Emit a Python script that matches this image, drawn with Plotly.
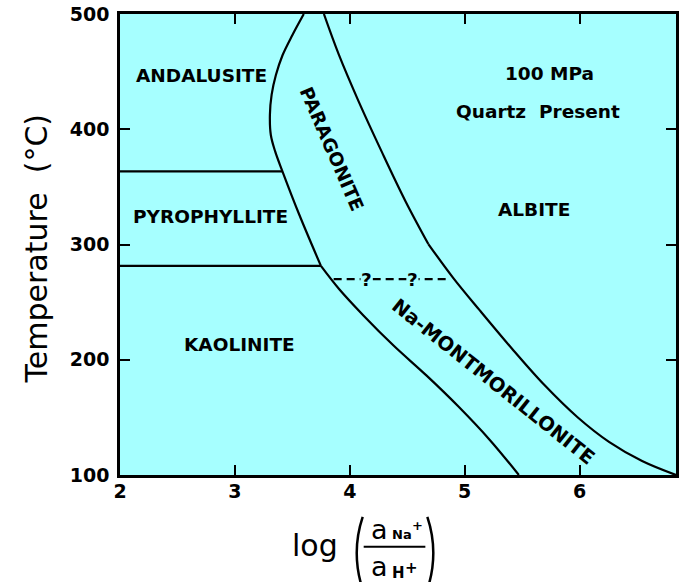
import plotly.graph_objects as go

# ---- phase boundaries: log(aNa+/aH+) vs temperature (°C) ----
# andalusite/pyrophyllite | paragonite boundary (upper branch, ends at the kaolinite line)
left_upper_x = [3.60, 3.50, 3.414, 3.357, 3.32, 3.305, 3.313, 3.35, 3.414, 3.56, 3.749]
left_upper_t = [500, 481.6, 464, 447, 430, 412.5, 395, 381, 363.5, 326, 281.4]
# kaolinite | paragonite / Na-montmorillonite boundary
left_lower_x = [3.749, 3.905, 4.121, 4.381, 4.667, 4.944, 5.221, 5.472]
left_lower_t = [281.4, 261.6, 238.2, 212.3, 186.4, 159.6, 130.2, 100]
# paragonite / Na-montmorillonite | albite boundary
right_upper_x = [3.775, 3.905, 4.078, 4.277, 4.485, 4.684]
right_upper_t = [500, 464.7, 424, 380.8, 337.6, 300.4]
right_lower_x = [4.684, 4.900, 5.134, 5.411, 5.697, 5.983, 6.260, 6.545, 6.84]
right_lower_t = [300.4, 271.1, 242.6, 209.8, 177.8, 150.1, 128.5, 112.1, 100]
# horizontal boundaries
andalusite_pyro_x = [2.0, 3.414]
andalusite_pyro_t = [363.5, 363.5]
pyro_kaol_x = [2.0, 3.749]
pyro_kaol_t = [281.4, 281.4]
# uncertain paragonite / Na-montmorillonite boundary
uncertain_x = [3.86, 4.87]
uncertain_t = [270, 270]
question_x = [4.15, 4.55]

# ---- field labels ----
field_names = ["ANDALUSITE", "PYROPHYLLITE", "KAOLINITE", "ALBITE",
               "100 MPa", "Quartz\u00a0\u00a0Present"]
field_x = [2.71, 2.79, 3.04, 5.60, 5.74, 5.64]
field_t = [447, 324.6, 213, 330, 448, 415]
rotated_names = ["PARAGONITE", "Na-MONTMORILLONITE"]
rotated_x = [3.84, 5.245]
rotated_t = [383, 181]
rotated_angle = [66.5, 38.5]
rotated_size = [18.5, 19.5]

x_ticks = [2, 3, 4, 5, 6]
t_ticks = [100, 200, 300, 400, 500]

W, H = 682, 582
ML, MR, MT, MB = 120, 3, 12, 107
PW, PH = W - ML - MR, H - MT - MB


def px(xp):
    return (xp - ML) / PW


def py(yp):
    return (H - MB - yp) / PH


LINE = dict(color="black", width=2.2)
BOLD = dict(family="DejaVu Sans", size=18.5, color="black", weight="bold")

fig = go.Figure()
for xs, ts, shape in [
    (left_upper_x, left_upper_t, "spline"),
    (left_lower_x, left_lower_t, "spline"),
    (right_upper_x, right_upper_t, "spline"),
    (right_lower_x, right_lower_t, "spline"),
    (andalusite_pyro_x, andalusite_pyro_t, "linear"),
    (pyro_kaol_x, pyro_kaol_t, "linear"),
]:
    fig.add_trace(go.Scatter(x=xs, y=ts, mode="lines",
                             line=dict(LINE, shape=shape),
                             hoverinfo="skip", showlegend=False))

fig.add_trace(go.Scatter(x=uncertain_x, y=uncertain_t, mode="lines",
                         line=dict(color="black", width=2.2, dash="8px,5px"),
                         hoverinfo="skip", showlegend=False))

annotations = []
for qx in question_x:
    annotations.append(dict(x=qx, y=uncertain_t[0], xref="x", yref="y", text="?",
                            showarrow=False, font=BOLD, bgcolor="#a6ffff",
                            borderpad=0))
for name, xv, tv in zip(field_names, field_x, field_t):
    annotations.append(dict(x=xv, y=tv, xref="x", yref="y", text=name,
                            showarrow=False, font=BOLD))
for name, xv, tv, ang, sz in zip(rotated_names, rotated_x, rotated_t,
                                 rotated_angle, rotated_size):
    annotations.append(dict(x=xv, y=tv, xref="x", yref="y", text=name,
                            textangle=ang, showarrow=False,
                            font=dict(BOLD, size=sz)))

# axis titles, placed in paper coordinates
REG = dict(family="DejaVu Sans", color="black")
title_parts = [
    dict(x=px(37), y=py(248), text="Temperature  (°C)", textangle=-90,
         font=dict(REG, size=30)),
    dict(x=px(316), y=py(546), text="log", font=dict(REG, size=30)),
    dict(x=px(381), y=py(530), text="a", font=dict(REG, size=27)),
    dict(x=px(404), y=py(535), text="Na", font=dict(REG, size=13, weight="bold")),
    dict(x=px(419), y=py(526), text="+", font=dict(REG, size=13, weight="bold")),
    dict(x=px(381), y=py(567), text="a", font=dict(REG, size=27)),
    dict(x=px(400), y=py(573), text="H", font=dict(REG, size=15, weight="bold")),
    dict(x=px(413), y=py(568), text="+", font=dict(REG, size=15, weight="bold")),
]
for a in title_parts:
    a.update(xref="paper", yref="paper", showarrow=False,
             xanchor="center", yanchor="middle")
annotations += title_parts

shapes = [
    dict(type="line", xref="paper", yref="paper", x0=px(365), x1=px(427),
         y0=py(547), y1=py(547), line=dict(color="black", width=2)),
    dict(type="path", xref="paper", yref="paper",
         path=f"M {px(364)},{py(517)} Q {px(352)},{py(553)} {px(364)},{py(590)}",
         line=dict(color="black", width=2.5)),
    dict(type="path", xref="paper", yref="paper",
         path=f"M {px(429)},{py(517)} Q {px(441)},{py(553)} {px(429)},{py(590)}",
         line=dict(color="black", width=2.5)),
]

TICKFONT = dict(family="DejaVu Sans", size=19, color="black", weight="bold")
AX = dict(showline=True, linecolor="black", linewidth=2.5, mirror="ticks",
          ticks="inside", ticklen=10, tickwidth=2, tickcolor="black",
          showgrid=False, zeroline=False, tickfont=TICKFONT)

fig.update_layout(
    width=W, height=H,
    margin=dict(l=ML, r=MR, t=MT, b=MB, pad=0),
    paper_bgcolor="white", plot_bgcolor="#a6ffff",
    xaxis=dict(AX, range=[2, 6.84], tickvals=x_ticks, ticklabelstandoff=-3),
    yaxis=dict(AX, range=[100, 500], tickvals=t_ticks, ticklabelstandoff=4),
    annotations=annotations, shapes=shapes,
)

fig.write_html("out.html")
